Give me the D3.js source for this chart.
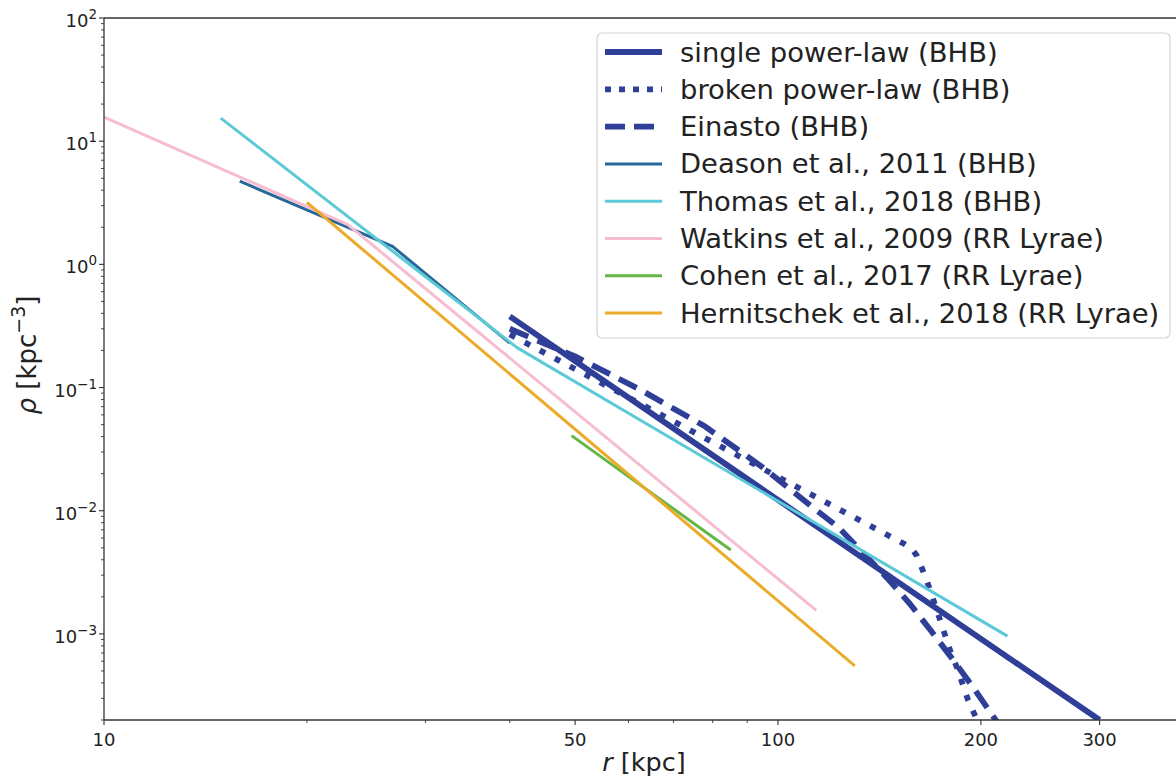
<!DOCTYPE html>
<html>
<head>
<meta charset="utf-8">
<script src="https://cdn.jsdelivr.net/npm/d3@7"></script>
<style>
  html, body { margin: 0; padding: 0; background: #fff; }
  svg { display: block; font-family: "DejaVu Sans", sans-serif; }
</style>
</head>
<body>
<svg id="chart" width="1176" height="783"></svg>
<script>
// ---------------- data ----------------
const seriesNames = [
  "single power-law (BHB)",
  "broken power-law (BHB)",
  "Einasto (BHB)",
  "Deason et al., 2011 (BHB)",
  "Thomas et al., 2018 (BHB)",
  "Watkins et al., 2009 (RR Lyrae)",
  "Cohen et al., 2017 (RR Lyrae)",
  "Hernitschek et al., 2018 (RR Lyrae)"
];

const singleR   = [40, 300];
const singleRho = [0.378, 2.0e-4];

const brokenR   = [40, 153.8, 157.9, 160.7, 164.1, 167.5, 173.8, 179.9, 184.4, 191.4, 197.4];
const brokenRho = [0.270, 5.39e-3, 4.91e-3, 4.31e-3, 3.25e-3, 2.41e-3, 1.32e-3, 7.41e-4, 5.29e-4, 2.91e-4, 2.0e-4];

const einastoR   = [40, 50, 62.4, 78.0, 95.0, 112.7, 122.7, 145.1, 157.0, 169.1, 181.9, 194.1, 211.3];
const einastoRho = [0.30, 0.179, 0.0963, 0.0482, 0.0224, 0.0106, 7.4e-3, 2.85e-3, 1.75e-3, 1.04e-3, 6.15e-4, 3.78e-4, 1.93e-4];

const deasonR   = [15.9, 26.8, 40];
const deasonRho = [4.73, 1.40, 0.229];

const thomasR   = [14.9, 41, 219];
const thomasRho = [15.4, 0.211, 9.6e-4];

const watkinsR   = [10, 23, 114];
const watkinsRho = [15.7, 2.1, 1.55e-3];

const cohenR   = [49.4, 85.1];
const cohenRho = [0.0407, 4.8e-3];

const hernR   = [20, 130];
const hernRho = [3.19, 5.5e-4];

const xMajorTicks = [10, 50, 100, 200, 300];
const xMinorTicks = [20, 30, 40, 60, 70, 80, 90, 400];
const yMajorExponents = [-3, -2, -1, 0, 1, 2];

// ---------------- styles ----------------
const colors = ["#2f3f98", "#2f3f98", "#2f3f98", "#26689a", "#5cc9d7", "#f6bdd0", "#64b646", "#ebab28"];
const widths = [5.8, 5.8, 5.8, 3, 3, 3, 3, 3];
const dashes = [null, "6,11", "20,10", null, null, null, null, null];
const legendDashes = [null, "6,8", "20,9", null, null, null, null, null];

const seriesR   = [singleR, brokenR, einastoR, deasonR, thomasR, watkinsR, cohenR, hernR];
const seriesRho = [singleRho, brokenRho, einastoRho, deasonRho, thomasRho, watkinsRho, cohenRho, hernRho];

// ---------------- layout ----------------
const plotLeft = 104, plotTop = 18, plotBottom = 720;
const plotRight = 104 + 674 * Math.log10(40); // axis extends past the picture edge

const svg = d3.select("#chart");
const x = d3.scaleLog().domain([10, 400]).range([plotLeft, plotRight]);
const y = d3.scaleLog().domain([2e-4, 100]).range([plotBottom, plotTop]);

svg.append("defs").append("clipPath").attr("id", "clip")
  .append("rect").attr("x", plotLeft).attr("y", plotTop)
  .attr("width", plotRight - plotLeft).attr("height", plotBottom - plotTop);

// ---------------- lines ----------------
const line = d3.line().x(d => x(d[0])).y(d => y(d[1]));
const plot = svg.append("g").attr("clip-path", "url(#clip)");
seriesNames.forEach((name, i) => {
  const pts = seriesR[i].map((r, j) => [r, seriesRho[i][j]]);
  const p = plot.append("path")
    .attr("d", line(pts))
    .attr("fill", "none")
    .attr("stroke", colors[i])
    .attr("stroke-width", widths[i])
    .attr("stroke-linejoin", "round")
    .attr("stroke-linecap", "butt");
  if (dashes[i]) p.attr("stroke-dasharray", dashes[i]);
});

// ---------------- axes ----------------
const axisColor = "#333";
svg.append("line").attr("x1", plotLeft).attr("x2", plotLeft).attr("y1", plotTop).attr("y2", plotBottom)
  .attr("stroke", axisColor).attr("stroke-width", 1.3);
svg.append("line").attr("x1", plotLeft).attr("x2", 1176).attr("y1", plotBottom).attr("y2", plotBottom)
  .attr("stroke", axisColor).attr("stroke-width", 1.3);
svg.append("line").attr("x1", plotLeft).attr("x2", 1176).attr("y1", plotTop).attr("y2", plotTop)
  .attr("stroke", axisColor).attr("stroke-width", 1.3);

// x ticks
const xAxisG = svg.append("g");
xMajorTicks.forEach(t => {
  xAxisG.append("line").attr("x1", x(t)).attr("x2", x(t)).attr("y1", plotBottom).attr("y2", plotBottom + 5)
    .attr("stroke", axisColor).attr("stroke-width", 1.1);
  xAxisG.append("text").attr("x", x(t)).attr("y", plotBottom + 26)
    .attr("text-anchor", "middle").attr("font-size", 18).attr("fill", "#222").text(t);
});
xMinorTicks.forEach(t => {
  xAxisG.append("line").attr("x1", x(t)).attr("x2", x(t)).attr("y1", plotBottom).attr("y2", plotBottom + 3)
    .attr("stroke", axisColor).attr("stroke-width", 0.9);
});

// y ticks
const yAxisG = svg.append("g");
yMajorExponents.forEach(e => {
  const v = Math.pow(10, e);
  const yy = y(v);
  yAxisG.append("line").attr("x1", plotLeft - 5).attr("x2", plotLeft).attr("y1", yy).attr("y2", yy)
    .attr("stroke", axisColor).attr("stroke-width", 1.1);
  const t = yAxisG.append("text").attr("x", 97).attr("y", yy + 9)
    .attr("text-anchor", "end").attr("font-size", 18).attr("fill", "#222");
  t.append("tspan").text("10");
  t.append("tspan").attr("dy", -8).attr("font-size", 13.5).text(e < 0 ? "\u2212" + (-e) : String(e));
});
for (let e = -4; e <= 1; e++) {
  for (let m = 2; m <= 9; m++) {
    const v = m * Math.pow(10, e);
    if (v < 2e-4 || v > 100) continue;
    const yy = y(v);
    yAxisG.append("line").attr("x1", plotLeft - 3).attr("x2", plotLeft).attr("y1", yy).attr("y2", yy)
      .attr("stroke", axisColor).attr("stroke-width", 0.9);
  }
}

// axis labels
const xl = svg.append("text").attr("x", 644).attr("y", 771).attr("text-anchor", "middle")
  .attr("font-size", 25.5).attr("fill", "#222");
xl.append("tspan").attr("font-style", "italic").text("r");
xl.append("tspan").text(" [kpc]");

const yl = svg.append("text").attr("transform", "translate(36,355) rotate(-90)")
  .attr("text-anchor", "middle").attr("font-size", 26).attr("fill", "#222");
yl.append("tspan").attr("font-style", "italic").text("\u03c1");
yl.append("tspan").text(" [kpc");
yl.append("tspan").attr("dy", -11).attr("font-size", 19).text("\u22123");
yl.append("tspan").attr("dy", 11).text("]");

// ---------------- legend ----------------
const lg = svg.append("g");
lg.append("rect").attr("x", 597).attr("y", 33).attr("width", 573).attr("height", 305)
  .attr("rx", 5).attr("ry", 5)
  .attr("fill", "#fff").attr("fill-opacity", 0.85)
  .attr("stroke", "#d4d4d4").attr("stroke-width", 1.2);
seriesNames.forEach((name, i) => {
  const cy = 52 + i * 37.3;
  const l = lg.append("line").attr("x1", 605).attr("x2", 662).attr("y1", cy).attr("y2", cy)
    .attr("stroke", colors[i]).attr("stroke-width", widths[i]);
  if (legendDashes[i]) l.attr("stroke-dasharray", legendDashes[i]);
  lg.append("text").attr("x", 680).attr("y", cy + 9.5).attr("font-size", 27.4).attr("fill", "#222").text(name);
});
</script>
</body>
</html>
